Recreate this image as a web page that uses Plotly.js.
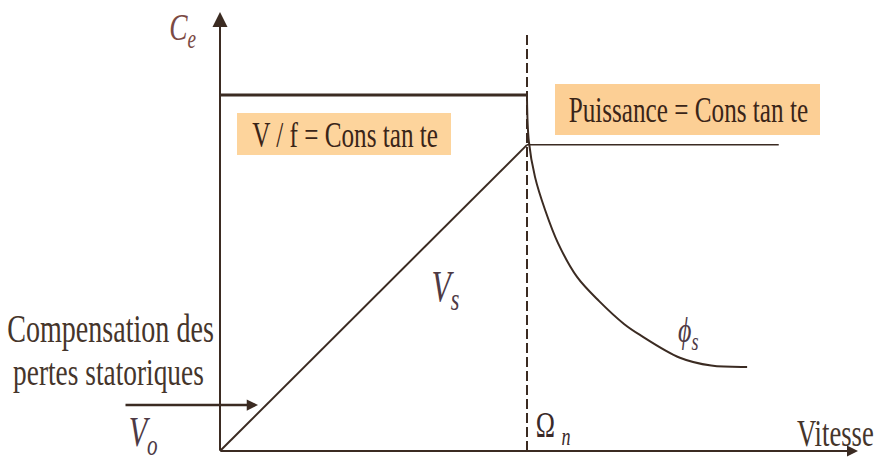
<!DOCTYPE html>
<html>
<head>
<meta charset="utf-8">
<script src="https://cdn.plot.ly/plotly-3.0.1.min.js"></script>
<style>
  html, body { margin: 0; padding: 0; background: #ffffff; }
  #chart { width: 879px; height: 457px; }
</style>
</head>
<body>
<div id="chart"></div>
<script>
// ---- Data (speed in units of Ω_n, torque in units of the constant-torque level) ----
const torqueLimitSpeed = [0, 1];
const torqueLimitValue = [1, 1];
const vsSpeed = [0, 1];
const vsValue = [0, 0.86];
const powerSpeed = [1, 1.82];
const powerValue = [0.86, 0.86];
const phiSpeed = [1.0, 1.006, 1.026, 1.059, 1.101, 1.163, 1.235, 1.316, 1.368, 1.498, 1.600, 1.717];
const phiValue = [0.99, 0.87, 0.770, 0.677, 0.584, 0.489, 0.421, 0.357, 0.326, 0.262, 0.240, 0.236];
const omegaNSpeed = [1, 1];
const omegaNValue = [0, 1.18];

const W = 879, H = 457;
const xRange = [-220 / 307, 659 / 307];
const yRange = [-6 / 356, 451 / 356];
const ink = '#3b2b22';
const serif = 'Liberation Serif, Times New Roman, serif';

function px(x) { return x / W; }
function py(y) { return 1 - y / H; }

const data = [
  { x: omegaNSpeed, y: omegaNValue, mode: 'lines', line: { color: ink, width: 2, dash: '10px,4px' }, hoverinfo: 'skip' },
  { x: torqueLimitSpeed, y: torqueLimitValue, mode: 'lines', line: { color: ink, width: 3 }, hoverinfo: 'skip' },
  { x: vsSpeed, y: vsValue, mode: 'lines', line: { color: ink, width: 2 }, hoverinfo: 'skip' },
  { x: powerSpeed, y: powerValue, mode: 'lines', line: { color: ink, width: 1.5 }, hoverinfo: 'skip' },
  { x: phiSpeed, y: phiValue, mode: 'lines', line: { color: ink, width: 2, shape: 'spline', smoothing: 1 }, hoverinfo: 'skip' }
];

function label(text, cx, cy, size, color) {
  return {
    xref: 'paper', yref: 'paper', x: px(cx), y: py(cy),
    xanchor: 'center', yanchor: 'middle', showarrow: false,
    text: text, font: { family: serif, size: size, color: color }
  };
}

function arrow(x, y, ax, ay, width, size) {
  return {
    xref: 'x', yref: 'y', axref: 'x', ayref: 'y',
    x: x, y: y, ax: ax, ay: ay, text: '', showarrow: true,
    arrowhead: 2, arrowwidth: width, arrowsize: size, arrowcolor: ink,
    standoff: 0, startstandoff: 0, borderpad: 0
  };
}

const annotations = [
  // axes
  arrow(0, (451 - 12) / 356, 0, 0, 2, 1.5),
  arrow((858 - 220) / 307, 0, 0, 0, 2, 1.1),
  // compensation arrow
  arrow((258 - 220) / 307, (451 - 405) / 356, (125 - 220) / 307, (451 - 405) / 356, 2.5, 0.9),
  // texts
  label('Compensation des', 111, 329, 39, '#45352b'),
  label('pertes statoriques', 108, 372, 38, '#45352b'),
  label('V / f = Cons tan te', 345, 136, 35, '#3a2518'),
  label('Puissance = Cons tan te', 688, 110, 35, '#3a2518'),
  label('Vitesse', 835, 433, 37, '#45352b'),
  label('<i>C</i><sub><i>e</i></sub>', 182, 30, 38, '#7b4a44'),
  label('<i>V</i><sub><i>s</i></sub>', 445, 289, 44, '#4e3a45'),
  label('<i>ϕ</i><sub><i>s</i></sub>', 688, 332, 36, '#4e3a45'),
  label('<i>V</i><sub><i>o</i></sub>', 143, 435, 42, '#4e3a45'),
  label('Ω <sub><i>n</i></sub>', 553, 427, 36, '#3a2a2a')
];

const shapes = [
  { type: 'rect', xref: 'paper', yref: 'paper', x0: px(237), x1: px(451), y0: py(155), y1: py(113), fillcolor: '#fdd49c', line: { width: 0 }, layer: 'below' },
  { type: 'rect', xref: 'paper', yref: 'paper', x0: px(555), x1: px(820), y0: py(135), y1: py(84), fillcolor: '#fccf95', line: { width: 0 }, layer: 'below' }
];

const layout = {
  width: W, height: H,
  margin: { l: 0, r: 0, t: 0, b: 0, pad: 0 },
  paper_bgcolor: '#ffffff', plot_bgcolor: '#ffffff',
  showlegend: false,
  xaxis: { range: xRange, visible: false, fixedrange: true },
  yaxis: { range: yRange, visible: false, fixedrange: true },
  annotations: annotations,
  shapes: shapes
};

Plotly.newPlot('chart', data, layout, { staticPlot: true, displayModeBar: false }).then(function (gd) {
  const sx = 0.72;
  gd.querySelectorAll('text.annotation-text').forEach(function (t) {
    if (!t.textContent.trim()) return;
    const b = t.getBBox();
    const cx = b.x + b.width / 2;
    const prev = t.getAttribute('transform') || '';
    t.setAttribute('transform', prev + ' translate(' + cx + ',0) scale(' + sx + ',1) translate(' + (-cx) + ',0)');
  });
});
</script>
</body>
</html>
